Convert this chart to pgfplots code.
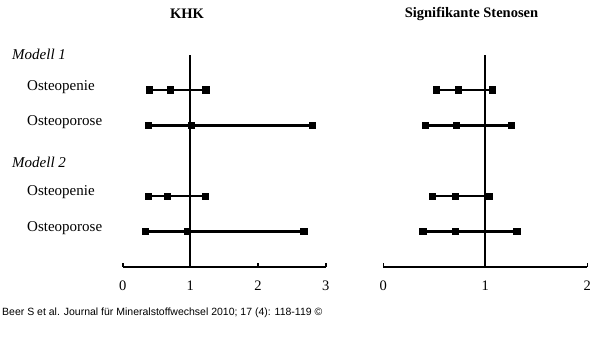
\documentclass[border=0pt]{standalone}
\usepackage{fontspec}
\setmainfont{Liberation Serif}
\newfontfamily\footfont{Liberation Sans}
\usepackage{pgfplots}
\pgfplotsset{compat=1.18}
\begin{document}
\begin{tikzpicture}[x=1pt,y=1pt]
\useasboundingbox (0,0) rectangle (600,361);
\pgfplotsset{
 forest/.style={
  scale only axis, height=212.4pt, ymin=0, ymax=6,
  axis x line*=bottom, axis y line=none,
  x axis line style={-, line width=2pt},
  every outer x axis line/.append style={-},
  tick align=inside, major tick length=4pt,
  xtick style={line width=1.6pt, black},
  xticklabel style={font=\fontsize{14.5}{16}\selectfont, yshift=-10.5pt},
  /pgf/number format/assume math mode=true,
  clip=false,
 },
 row/.style={black, line width=2.6pt, mark=square*, mark size=2.3pt, mark options={solid}},
 refl/.style={black, line width=2pt},
}
\begin{axis}[forest, at={(122.7pt,94pt)}, anchor=south west, width=203pt, xmin=0, xmax=3, xtick={0,1,2,3}]
\addplot[refl] coordinates {(1,0) (1,6)};
\addplot[row] coordinates {(0.40,5) (0.71,5) (1.23,5)};
\addplot[row] coordinates {(0.38,4) (1.02,4) (2.80,4)};
\addplot[row] coordinates {(0.38,2) (0.66,2) (1.22,2)};
\addplot[row] coordinates {(0.34,1) (0.96,1) (2.68,1)};
\end{axis}
\begin{axis}[forest, at={(383.3pt,94pt)}, anchor=south west, width=204pt, xmin=0, xmax=2, xtick={0,1,2}]
\addplot[refl] coordinates {(1,0) (1,6)};
\addplot[row] coordinates {(0.52,5) (0.74,5) (1.07,5)};
\addplot[row] coordinates {(0.41,4) (0.72,4) (1.26,4)};
\addplot[row] coordinates {(0.48,2) (0.71,2) (1.04,2)};
\addplot[row] coordinates {(0.39,1) (0.71,1) (1.31,1)};
\end{axis}
\node[font=\fontsize{14.5}{16}\selectfont\bfseries] at (187,347) {KHK};
\node[font=\fontsize{14.5}{16}\selectfont\bfseries] at (471.5,347) {Signifikante Stenosen};
\begin{scope}[every node/.style={anchor=base west, inner sep=0pt}]
\node[font=\fontsize{15}{17}\selectfont\itshape] at (12,301) {Modell 1};
\node[font=\fontsize{15}{17}\selectfont] at (27,270.5) {Osteopenie};
\node[font=\fontsize{15}{17}\selectfont] at (27,235) {Osteoporose};
\node[font=\fontsize{15}{17}\selectfont\itshape] at (12,193) {Modell 2};
\node[font=\fontsize{15}{17}\selectfont] at (27,165) {Osteopenie};
\node[font=\fontsize{15}{17}\selectfont] at (27,129.5) {Osteoporose};
\node[font=\footfont\fontsize{10.5}{13}\selectfont] at (2,45) {Beer S et al. Journal für Mineralstoffwechsel 2010; 17 (4): 118-119 ©};
\end{scope}
\end{tikzpicture}
\end{document}
